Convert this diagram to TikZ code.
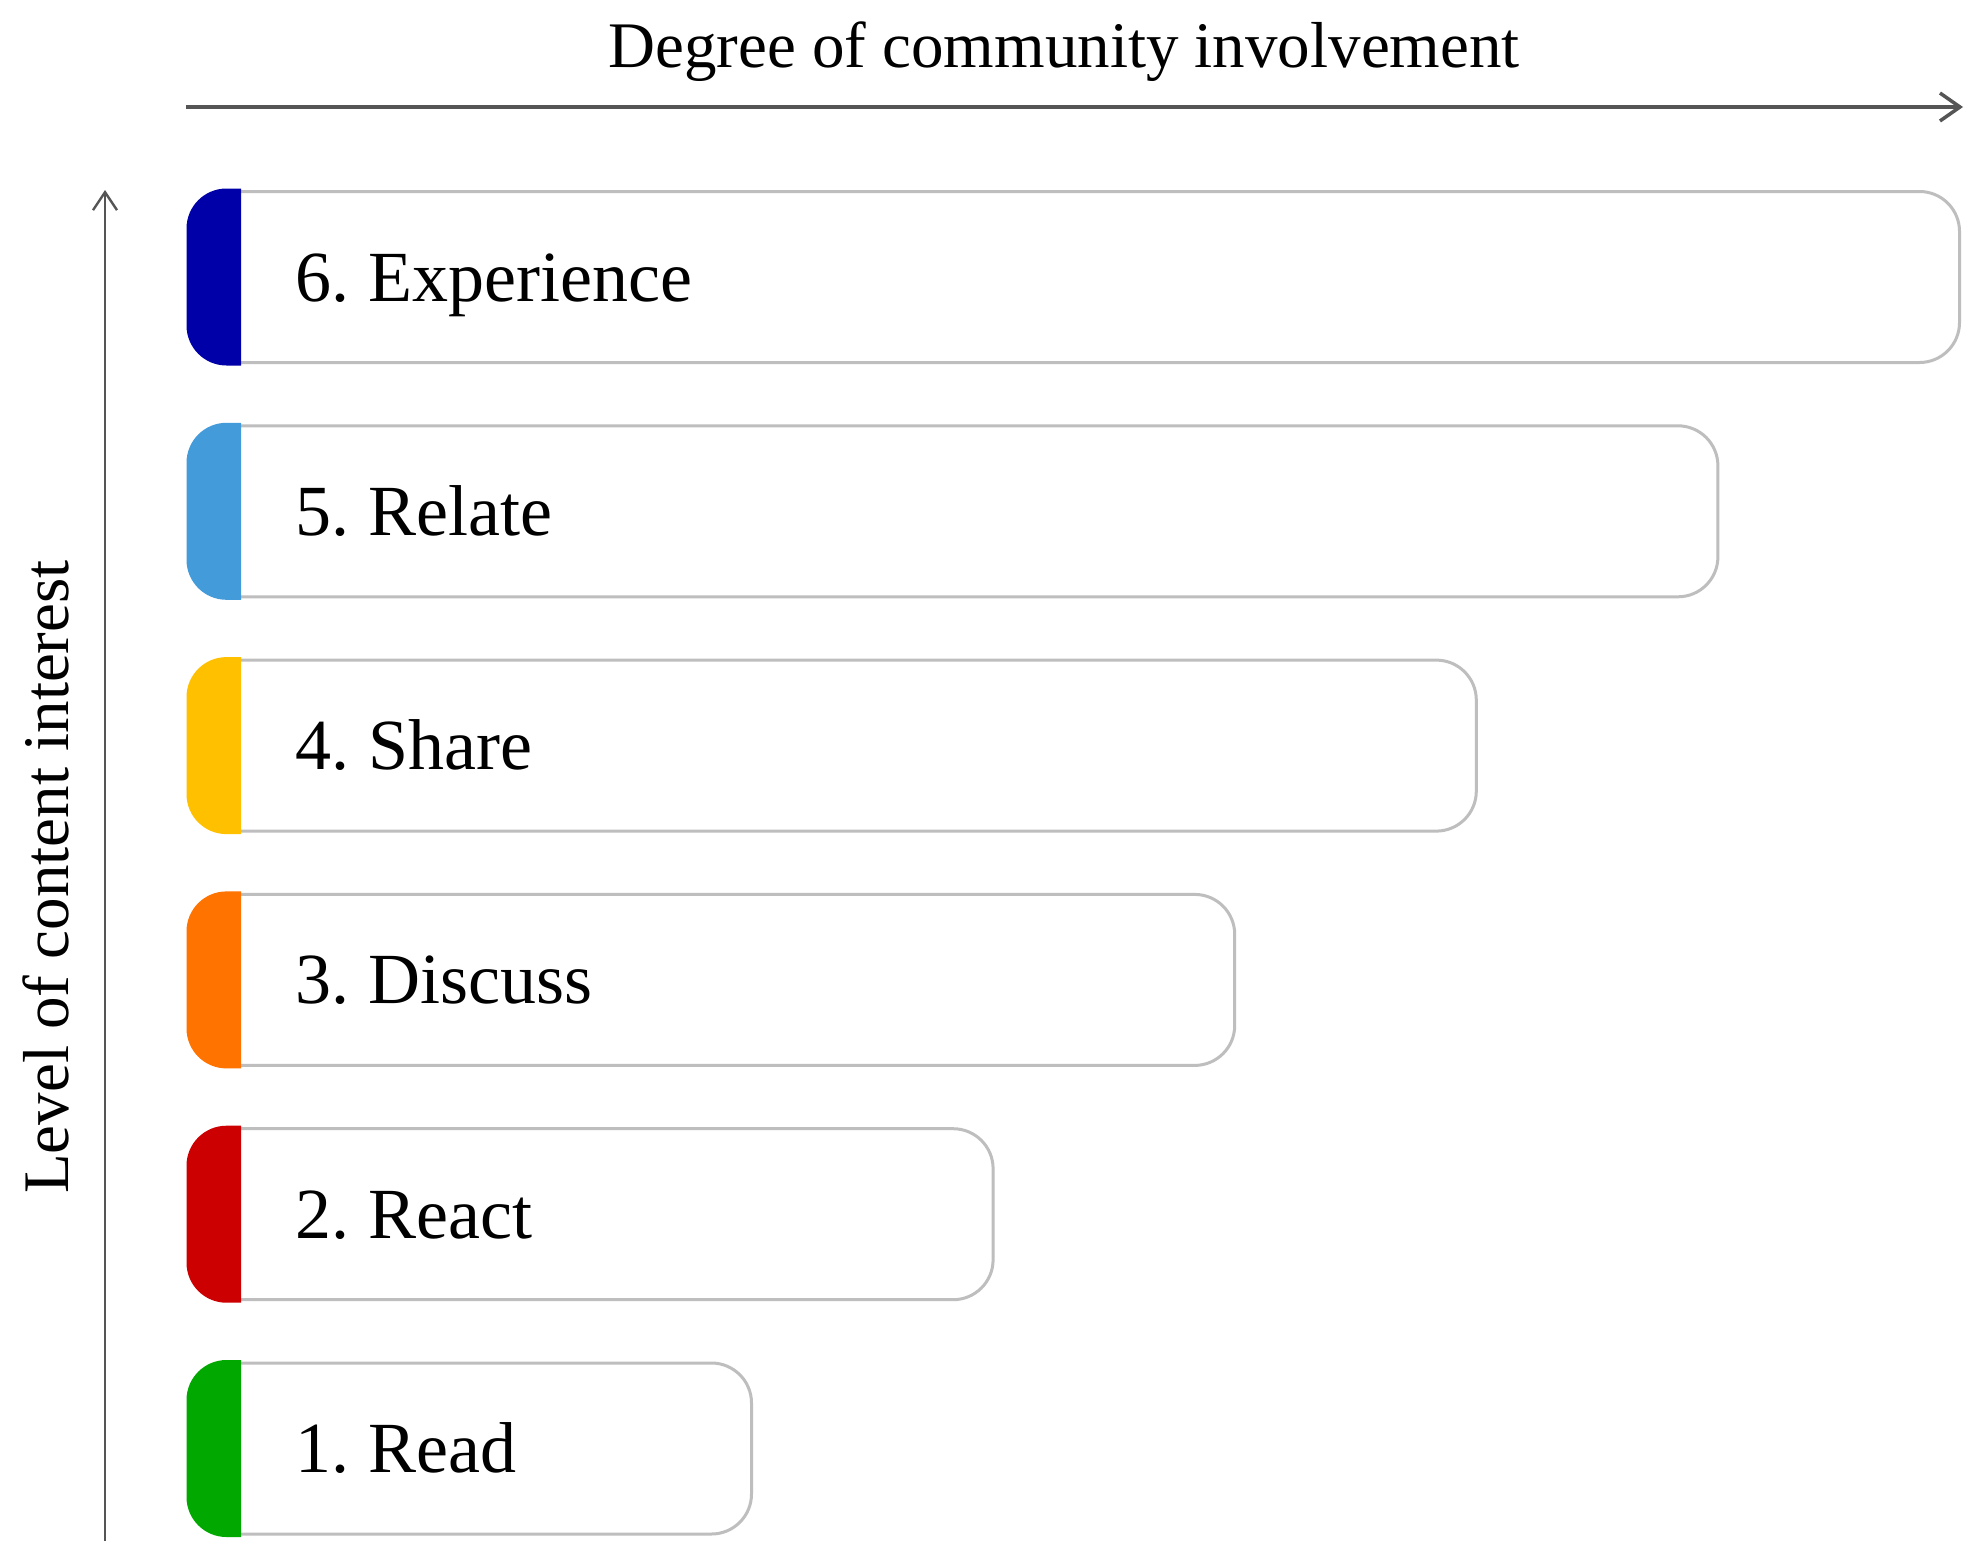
\documentclass[tikz,border=0pt]{standalone}
\usepackage{fontspec}
\setmainfont{Liberation Serif}
\newfontfamily\labelfont[WordSpace=0.75]{Liberation Serif}
\usetikzlibrary{arrows.meta}
\definecolor{cgreen}{RGB}{0,168,0}
\definecolor{cred}{RGB}{204,0,0}
\definecolor{corange}{RGB}{255,115,0}
\definecolor{cyellow}{RGB}{255,192,0}
\definecolor{clblue}{RGB}{68,155,218}
\definecolor{cdblue}{RGB}{0,0,168}
\definecolor{boxgray}{RGB}{190,190,190}
\definecolor{axisgray}{RGB}{85,85,85}
\tikzset{
  stagebox/.style={draw=boxgray, line width=3pt, rounded corners=40pt, fill=white,
    minimum height=171pt, inner sep=0pt, anchor=north west},
  stagelabel/.style={anchor=base west, inner sep=0pt, font=\labelfont\fontsize{72}{80}\selectfont},
  axislabel/.style={inner sep=0pt, font=\fontsize{65}{72}\selectfont},
  harrow/.style={draw=axisgray, line width=4pt, -{Straight Barb[length=20pt,width=28pt,line width=3.5pt]}},
  varrow/.style={draw=axisgray, line width=2.6pt, -{Straight Barb[length=18pt,width=24pt,line width=2.4pt]}}
}
\begin{document}
\begin{tikzpicture}[x=1pt,y=-1pt]
\useasboundingbox (0,0) rectangle (1980,1563);
\fill[white] (0,0) rectangle (1980,1563);
% axes
\coordinate (hs) at (186,107);
\coordinate (he) at (1963,107);
\draw[harrow] (hs) -- (he);
\coordinate (vs) at (105,1541);
\coordinate (ve) at (105,190);
\draw[varrow] (vs) -- (ve);
\node[axislabel, anchor=base] (title) at (1064,67) {Degree of community involvement};
\node[axislabel, anchor=base, rotate=90] (ylab) at (68,877) {Level of content interest};
% stages
\foreach \i/\lab/\col in {1/1. Read/cgreen, 2/2. React/cred, 3/3. Discuss/corange,
                          4/4. Share/cyellow, 5/5. Relate/clblue, 6/6. Experience/cdblue}{
  \pgfmathsetmacro\t{190+(6-\i)*234.3}
  \pgfmathsetmacro\w{750+(\i-1)*241.6-188}
  \node[stagebox, minimum width=\w pt] (b\i) at (188,\t) {};
  \begin{scope}
    \clip (b\i.north west) ++(-3,-3) rectangle ([xshift=53pt,yshift=-3pt]b\i.south west);
    \fill[\col, rounded corners=40pt] ([xshift=-1.5pt,yshift=1.5pt]b\i.north west) rectangle ([xshift=1.5pt,yshift=-1.5pt]b\i.south east);
  \end{scope}
  \node[stagelabel] (l\i) at (295,\t+111) {\lab};
}
\end{tikzpicture}
\end{document}
